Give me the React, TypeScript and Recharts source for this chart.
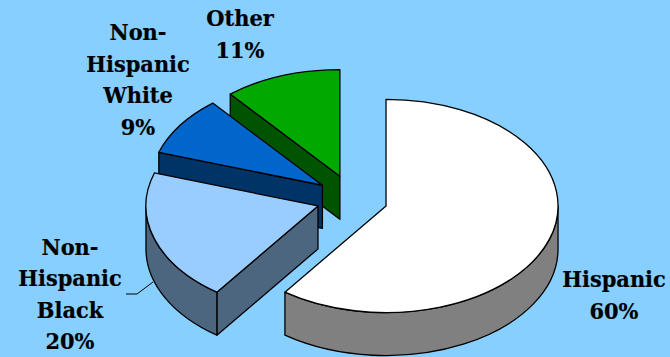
import React from "react";
import { PieChart, Pie } from "recharts";

// Slices run counter-clockwise from 12 o'clock, so the back slices paint first
const categories = ["Other", "Non-Hispanic White", "Non-Hispanic Black", "Hispanic"];
const shares = [11, 9, 20, 60];
const labelLines = [["Other"], ["Non-", "Hispanic", "White"], ["Non-", "Hispanic", "Black"], ["Hispanic"]];

const topColors = ["#00A800", "#0066CC", "#99CCFF", "#FFFFFF"];
const wallColors = ["#005400", "#003366", "#4C6680", "#808080"];

// Anchor of the first line of each label (centre x, baseline y)
const labelAnchors = [
	{ x: 240, y: 26.5 },
	{ x: 138, y: 40.5 },
	{ x: 70, y: 255 },
	{ x: 614, y: 287.5 },
];

const WIDTH = 670;
const HEIGHT = 357;
const BG = "#87CFFF";
const TILT = 0.62; // squash of the pie's circle into an ellipse
const DEPTH = 43;
const EXPLODE_X = 0.208; // share of the radius each slice moves outwards
const EXPLODE_Y = 0.138;
const LINE_HEIGHT = 31.4;
const TEXT_SQUEEZE = 0.91; // DejaVu Serif runs wide at this height
const RAD = Math.PI / 180;

const tableData = categories.map((name, i) => ({
	name,
	value: shares[i],
	fill: topColors[i],
	wall: wallColors[i],
	lines: labelLines[i],
	anchor: labelAnchors[i],
}));

// Slice with its wall, projected from the pie's polar angles
const Slice3D = (props: any) => {
	const { cx, cy, outerRadius, startAngle, endAngle, fill, wall } = props;
	const rx = outerRadius;
	const ry = outerRadius * TILT;
	const mid = ((startAngle + endAngle) / 2) * RAD;
	const ox = cx + Math.cos(mid) * rx * EXPLODE_X;
	const oy = cy - Math.sin(mid) * rx * EXPLODE_Y;

	const pt = (deg: number, drop = 0) =>
		`${ox + Math.cos(deg * RAD) * rx} ${oy - Math.sin(deg * RAD) * ry + drop}`;
	const large = endAngle - startAngle > 180 ? 1 : 0;

	const top = `M${ox} ${oy}L${pt(startAngle)}A${rx} ${ry} 0 ${large} 0 ${pt(endAngle)}Z`;

	// Only the lower half of the rim faces the viewer
	const lo = Math.max(startAngle, 180);
	const hi = Math.min(endAngle, 360);
	const rim =
		hi > lo
			? `M${pt(lo)}A${rx} ${ry} 0 ${hi - lo > 180 ? 1 : 0} 0 ${pt(hi)}L${pt(hi, DEPTH)}A${rx} ${ry} 0 ${hi - lo > 180 ? 1 : 0} 1 ${pt(lo, DEPTH)}Z`
			: null;

	// Closing edge is cut open towards the viewer when it points left of vertical
	const showEdge = Math.cos(endAngle * RAD) < -0.001;
	const edge = `M${ox} ${oy}L${pt(endAngle)}L${pt(endAngle, DEPTH)}L${ox} ${oy + DEPTH}Z`;

	return (
		<g stroke="#000" strokeWidth={1.3} strokeLinejoin="round">
			{showEdge && <path d={edge} fill={wall} />}
			{rim && <path d={rim} fill={wall} />}
			<path d={top} fill={fill} />
		</g>
	);
};

const renderLabel = (props: any) => {
	const { value, lines, anchor, index } = props;
	const rows = [...lines, `${value}%`];
	return (
		<g key={index}>
			{index === 2 && <polyline points="126,294 137,294 153,282" fill="none" stroke="#000" strokeWidth={1} />}
			<text
				transform={`translate(${anchor.x} 0) scale(${TEXT_SQUEEZE} 1)`}
				textAnchor="middle"
				fontFamily="'DejaVu Serif', serif"
				fontWeight="bold"
				fontSize={23}
				fill="#000"
				stroke="#000"
				strokeWidth={0.2}
			>
				{rows.map((row: string, i: number) => (
					<tspan key={i} x={0} y={anchor.y + i * LINE_HEIGHT}>
						{row}
					</tspan>
				))}
			</text>
		</g>
	);
};

const App: React.FC = () => {
	return (
		<div style={{ position: "absolute", left: 0, top: 0, width: WIDTH, height: HEIGHT, background: BG, overflow: "hidden" }}>
			<PieChart width={WIDTH} height={HEIGHT} margin={{ top: 0, right: 0, bottom: 0, left: 0 }}>
				<Pie
					data={tableData}
					dataKey="value"
					nameKey="name"
					cx={352}
					cy={198.6}
					innerRadius={0}
					outerRadius={172}
					startAngle={90}
					endAngle={450}
					stroke="none"
					shape={Slice3D}
					label={renderLabel}
					labelLine={false}
					isAnimationActive={false}
				/>
			</PieChart>
		</div>
	);
};

export default App;
